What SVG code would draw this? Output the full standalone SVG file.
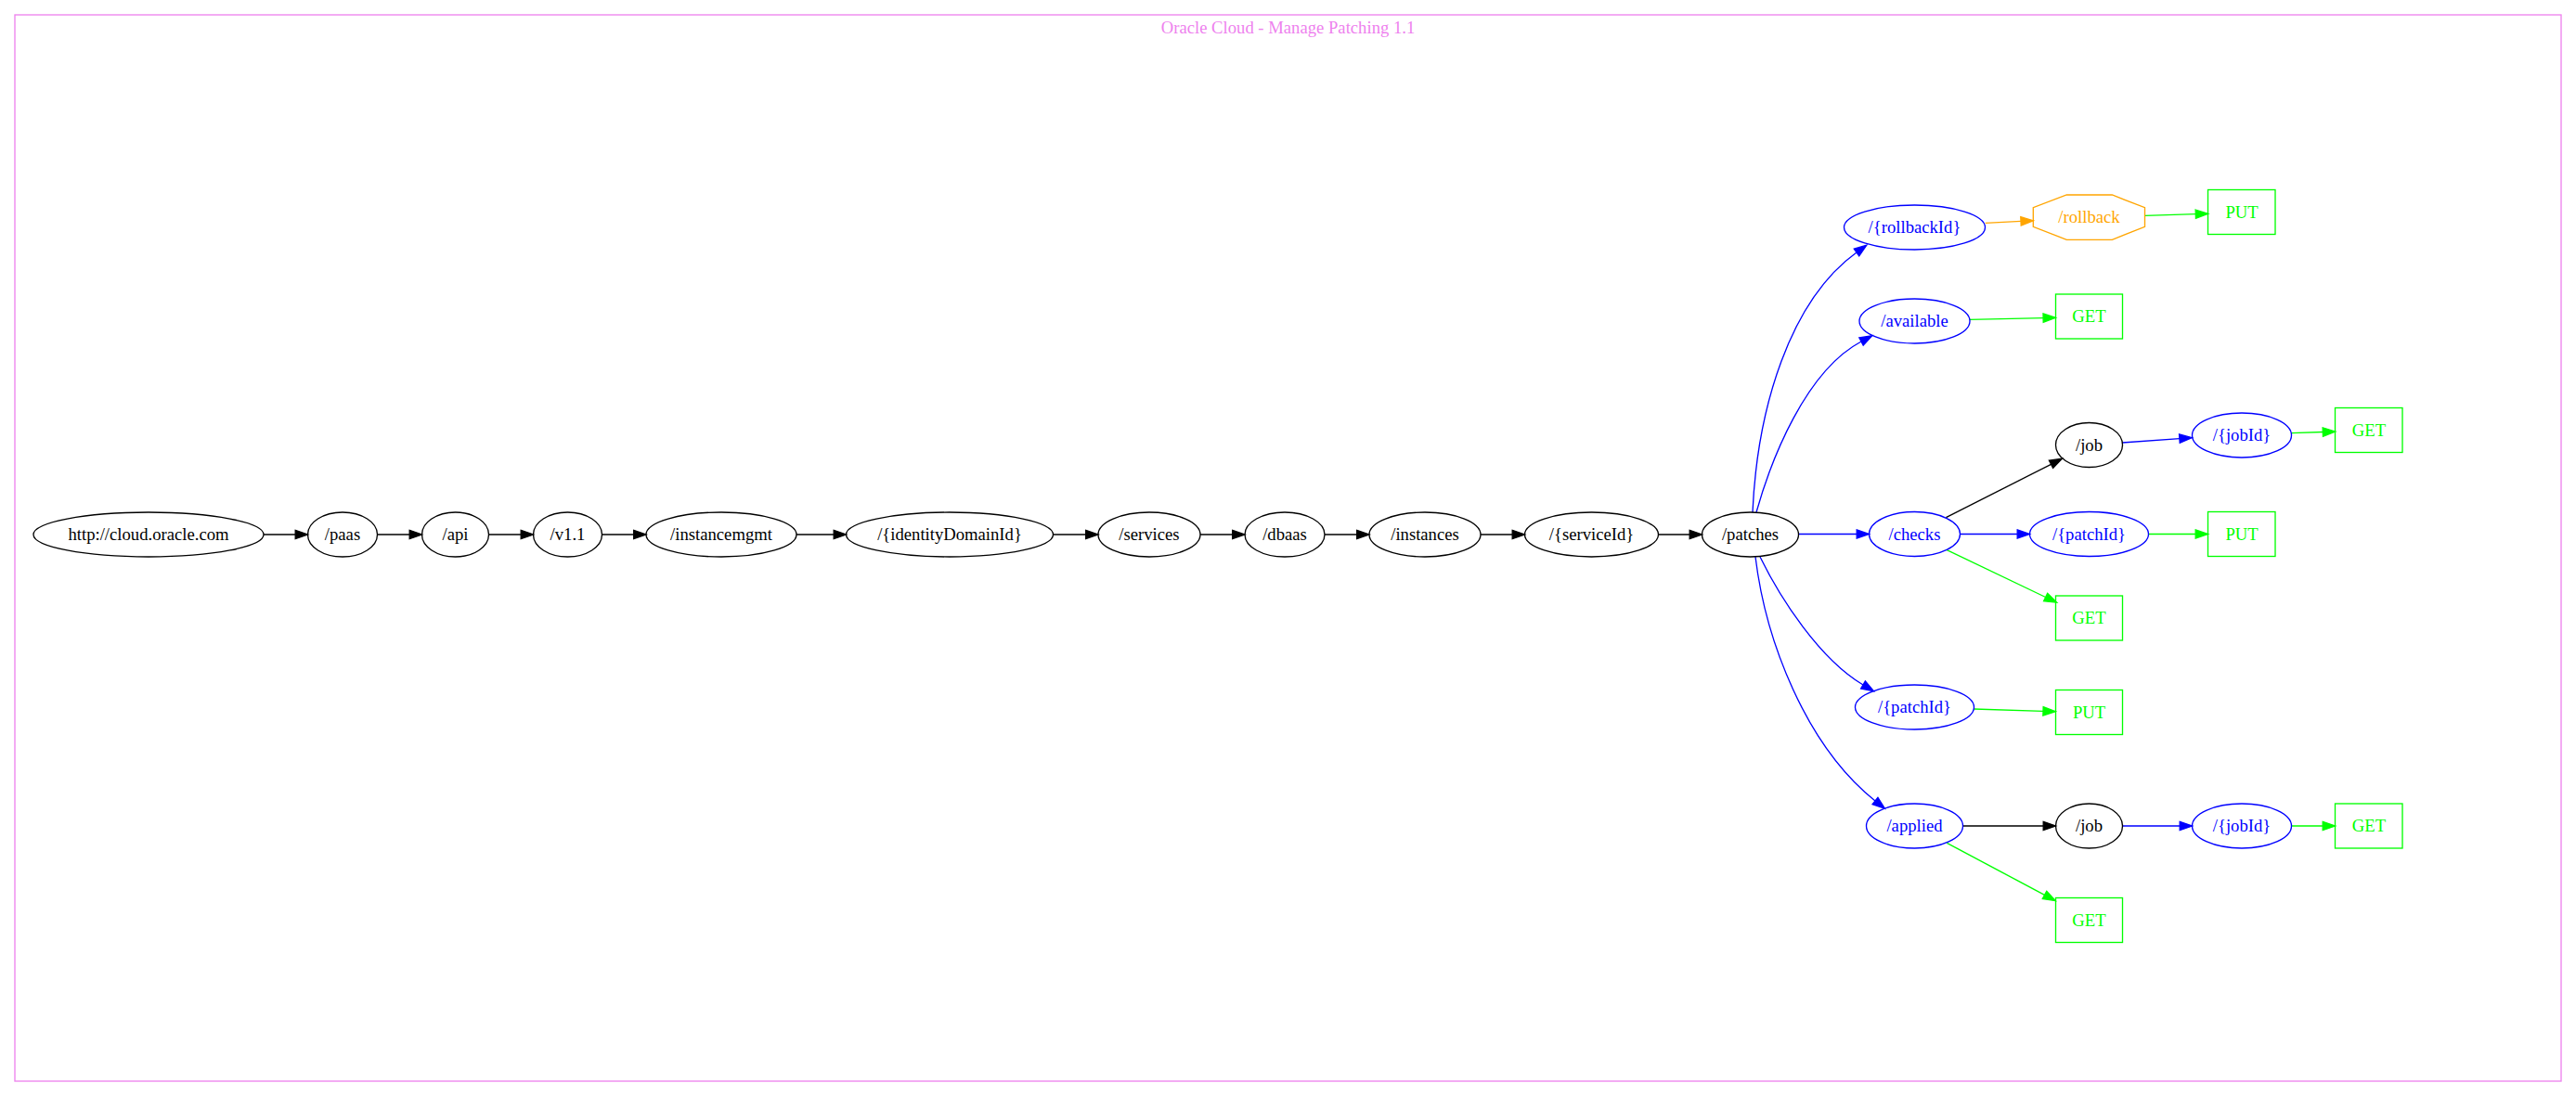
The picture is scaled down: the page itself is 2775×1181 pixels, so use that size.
<svg xmlns="http://www.w3.org/2000/svg" width="2775" height="1181" viewBox="0 0 2775 1181">
<style>
text{font-family:"Liberation Serif","Times New Roman",serif;font-size:18.67px;text-anchor:middle}
.n ellipse,.n rect,.n polygon{fill:none;stroke-width:1.33}
.k ellipse{stroke:#000}.k text{fill:#000}
.b ellipse{stroke:#0000ff}.b text{fill:#0000ff}
.g rect{stroke:#00ff00}.g text{fill:#00ff00}
.o polygon{stroke:#ffa500}.o text{fill:#ffa500}
.e path{fill:none;stroke-width:1.33}
.ek{stroke:#000}.eb{stroke:#0000ff}.eg{stroke:#00ff00}.eo{stroke:#ffa500}
</style>
<defs>
<marker id="ak" markerUnits="userSpaceOnUse" markerWidth="16" markerHeight="12" refX="0" refY="0" viewBox="0 -6 16 12" orient="auto" overflow="visible"><path d="M0,-4.67L13.33,0L0,4.67z" fill="#000" stroke="#000" stroke-width="1.33"/></marker>
<marker id="ab" markerUnits="userSpaceOnUse" markerWidth="16" markerHeight="12" refX="0" refY="0" viewBox="0 -6 16 12" orient="auto" overflow="visible"><path d="M0,-4.67L13.33,0L0,4.67z" fill="#0000ff" stroke="#0000ff" stroke-width="1.33"/></marker>
<marker id="ag" markerUnits="userSpaceOnUse" markerWidth="16" markerHeight="12" refX="0" refY="0" viewBox="0 -6 16 12" orient="auto" overflow="visible"><path d="M0,-4.67L13.33,0L0,4.67z" fill="#00ff00" stroke="#00ff00" stroke-width="1.33"/></marker>
<marker id="ao" markerUnits="userSpaceOnUse" markerWidth="16" markerHeight="12" refX="0" refY="0" viewBox="0 -6 16 12" orient="auto" overflow="visible"><path d="M0,-4.67L13.33,0L0,4.67z" fill="#ffa500" stroke="#ffa500" stroke-width="1.33"/></marker>
</defs>
<rect x="0" y="0" width="2775" height="1181" fill="#fff"/>
<g id="cluster">
<rect x="16" y="16" width="2743" height="1149" fill="none" stroke="#ee82ee" stroke-width="1.33"/>
<text x="1387.5" y="36" fill="#ee82ee">Oracle Cloud - Manage Patching 1.1</text>
</g>
<g id="connectors" class="e">
<path class="ek" d="M284,576L318.2,576" marker-end="url(#ak)"/>
<path class="ek" d="M406.5,576L441.2,576" marker-end="url(#ak)"/>
<path class="ek" d="M526.5,576L561.2,576" marker-end="url(#ak)"/>
<path class="ek" d="M648.5,576L682.7,576" marker-end="url(#ak)"/>
<path class="ek" d="M858,576L898.2,576" marker-end="url(#ak)"/>
<path class="ek" d="M1134.5,576L1169.7,576" marker-end="url(#ak)"/>
<path class="ek" d="M1293,576L1327.7,576" marker-end="url(#ak)"/>
<path class="ek" d="M1427,576L1461.7,576" marker-end="url(#ak)"/>
<path class="ek" d="M1595,576L1629.2,576" marker-end="url(#ak)"/>
<path class="ek" d="M1786.5,576L1820.2,576" marker-end="url(#ak)"/>
<path class="eb" d="M1888,552C1893,440 1928,324 2000,272" marker-end="url(#ab)"/>
<path class="eb" d="M1892,552C1908,495 1945,400 2005,368" marker-end="url(#ab)"/>
<path class="eb" d="M1937.5,575.5L2000.2,575.5" marker-end="url(#ab)"/>
<path class="eb" d="M1896,600C1918,645 1960,710 2007,738" marker-end="url(#ab)"/>
<path class="eb" d="M1891,600C1902,690 1945,803 2020,863" marker-end="url(#ab)"/>
<path class="eo" d="M2138.7,240.3L2177,238.4" marker-end="url(#ao)"/>
<path class="eg" d="M2310.5,232.3L2365.3,230.7" marker-end="url(#ag)"/>
<path class="eg" d="M2121.8,344.3L2201.1,342.6" marker-end="url(#ag)"/>
<path class="ek" d="M2096.4,557.7L2209.5,500.3" marker-end="url(#ak)"/>
<path class="eb" d="M2286.2,477L2347.9,472.6" marker-end="url(#ab)"/>
<path class="eg" d="M2468.3,466.7L2502.3,465.5" marker-end="url(#ag)"/>
<path class="eb" d="M2111.5,575.5L2173.2,575.5" marker-end="url(#ab)"/>
<path class="eg" d="M2314.5,575.5L2365.2,575.5" marker-end="url(#ag)"/>
<path class="eg" d="M2097.3,592.7L2203.6,643.5" marker-end="url(#ag)"/>
<path class="eg" d="M2126.3,764L2201,766.3" marker-end="url(#ag)"/>
<path class="ek" d="M2114.5,890L2201.2,890" marker-end="url(#ak)"/>
<path class="eb" d="M2286.5,890L2348.2,890" marker-end="url(#ab)"/>
<path class="eg" d="M2468.5,890L2502.2,890" marker-end="url(#ag)"/>
<path class="eg" d="M2097.3,908.3L2202.5,964.4" marker-end="url(#ag)"/>
</g>
<g id="n_root" class="n k"><ellipse cx="160" cy="576" rx="124" ry="24"/><text x="160" y="582">http://cloud.oracle.com</text></g>
<g id="n_paas" class="n k"><ellipse cx="369" cy="576" rx="37.5" ry="24"/><text x="369" y="582">/paas</text></g>
<g id="n_api" class="n k"><ellipse cx="490.5" cy="576" rx="36" ry="24"/><text x="490.5" y="582">/api</text></g>
<g id="n_v11" class="n k"><ellipse cx="611.5" cy="576" rx="37" ry="24"/><text x="611.5" y="582">/v1.1</text></g>
<g id="n_instancemgmt" class="n k"><ellipse cx="777" cy="576" rx="81" ry="24"/><text x="777" y="582">/instancemgmt</text></g>
<g id="n_identityDomainId" class="n k"><ellipse cx="1023" cy="576" rx="111.5" ry="24"/><text x="1023" y="582">/{identityDomainId}</text></g>
<g id="n_services" class="n k"><ellipse cx="1238" cy="576" rx="55" ry="24"/><text x="1238" y="582">/services</text></g>
<g id="n_dbaas" class="n k"><ellipse cx="1384" cy="576" rx="43" ry="24"/><text x="1384" y="582">/dbaas</text></g>
<g id="n_instances" class="n k"><ellipse cx="1535" cy="576" rx="60" ry="24"/><text x="1535" y="582">/instances</text></g>
<g id="n_serviceId" class="n k"><ellipse cx="1714.5" cy="576" rx="72" ry="24"/><text x="1714.5" y="582">/{serviceId}</text></g>
<g id="n_patches" class="n k"><ellipse cx="1885.5" cy="576" rx="52" ry="24"/><text x="1885.5" y="582">/patches</text></g>
<g id="n_rollbackId" class="n b"><ellipse cx="2062.5" cy="245" rx="76" ry="24"/><text x="2062.5" y="251">/{rollbackId}</text></g>
<g id="n_rollback" class="n o"><polygon points="2226.3,210 2275.3,210 2310.5,223.7 2310.5,244.3 2275.3,258.3 2226.3,258.3 2190.3,244.3 2190.3,223.7"/><text x="2250.5" y="240">/rollback</text></g>
<g id="n_rollback_put" class="n g"><rect x="2378.5" y="204.5" width="72.5" height="48"/><text x="2415" y="234.5">PUT</text></g>
<g id="n_available" class="n b"><ellipse cx="2062.5" cy="346" rx="59.5" ry="24"/><text x="2062.5" y="352">/available</text></g>
<g id="n_available_get" class="n g"><rect x="2214.5" y="317" width="72" height="48"/><text x="2250.5" y="347">GET</text></g>
<g id="n_checks" class="n b"><ellipse cx="2062.5" cy="575.5" rx="49" ry="24"/><text x="2062.5" y="581.5">/checks</text></g>
<g id="n_checks_job" class="n k"><ellipse cx="2250.5" cy="479.5" rx="36" ry="24"/><text x="2250.5" y="485.5">/job</text></g>
<g id="n_checks_jobId" class="n b"><ellipse cx="2415" cy="469" rx="53.5" ry="24"/><text x="2415" y="475">/{jobId}</text></g>
<g id="n_checks_jobId_get" class="n g"><rect x="2515.5" y="439.5" width="72.5" height="48"/><text x="2552" y="469.5">GET</text></g>
<g id="n_checks_patchId" class="n b"><ellipse cx="2250.5" cy="575.5" rx="64" ry="24"/><text x="2250.5" y="581.5">/{patchId}</text></g>
<g id="n_checks_patchId_put" class="n g"><rect x="2378.5" y="551.5" width="72.5" height="48"/><text x="2415" y="581.5">PUT</text></g>
<g id="n_checks_get" class="n g"><rect x="2214.5" y="642" width="72" height="48"/><text x="2250.5" y="672">GET</text></g>
<g id="n_patchId" class="n b"><ellipse cx="2062.5" cy="762" rx="64" ry="24"/><text x="2062.5" y="768">/{patchId}</text></g>
<g id="n_patchId_put" class="n g"><rect x="2214.5" y="743.5" width="72" height="48"/><text x="2250.5" y="773.5">PUT</text></g>
<g id="n_applied" class="n b"><ellipse cx="2062.5" cy="890" rx="52" ry="24"/><text x="2062.5" y="896">/applied</text></g>
<g id="n_applied_job" class="n k"><ellipse cx="2250.5" cy="890" rx="36" ry="24"/><text x="2250.5" y="896">/job</text></g>
<g id="n_applied_jobId" class="n b"><ellipse cx="2415" cy="890" rx="53.5" ry="24"/><text x="2415" y="896">/{jobId}</text></g>
<g id="n_applied_jobId_get" class="n g"><rect x="2515.5" y="866" width="72.5" height="48"/><text x="2552" y="896">GET</text></g>
<g id="n_applied_get" class="n g"><rect x="2214.5" y="967.5" width="72" height="48"/><text x="2250.5" y="997.5">GET</text></g>
</svg>
